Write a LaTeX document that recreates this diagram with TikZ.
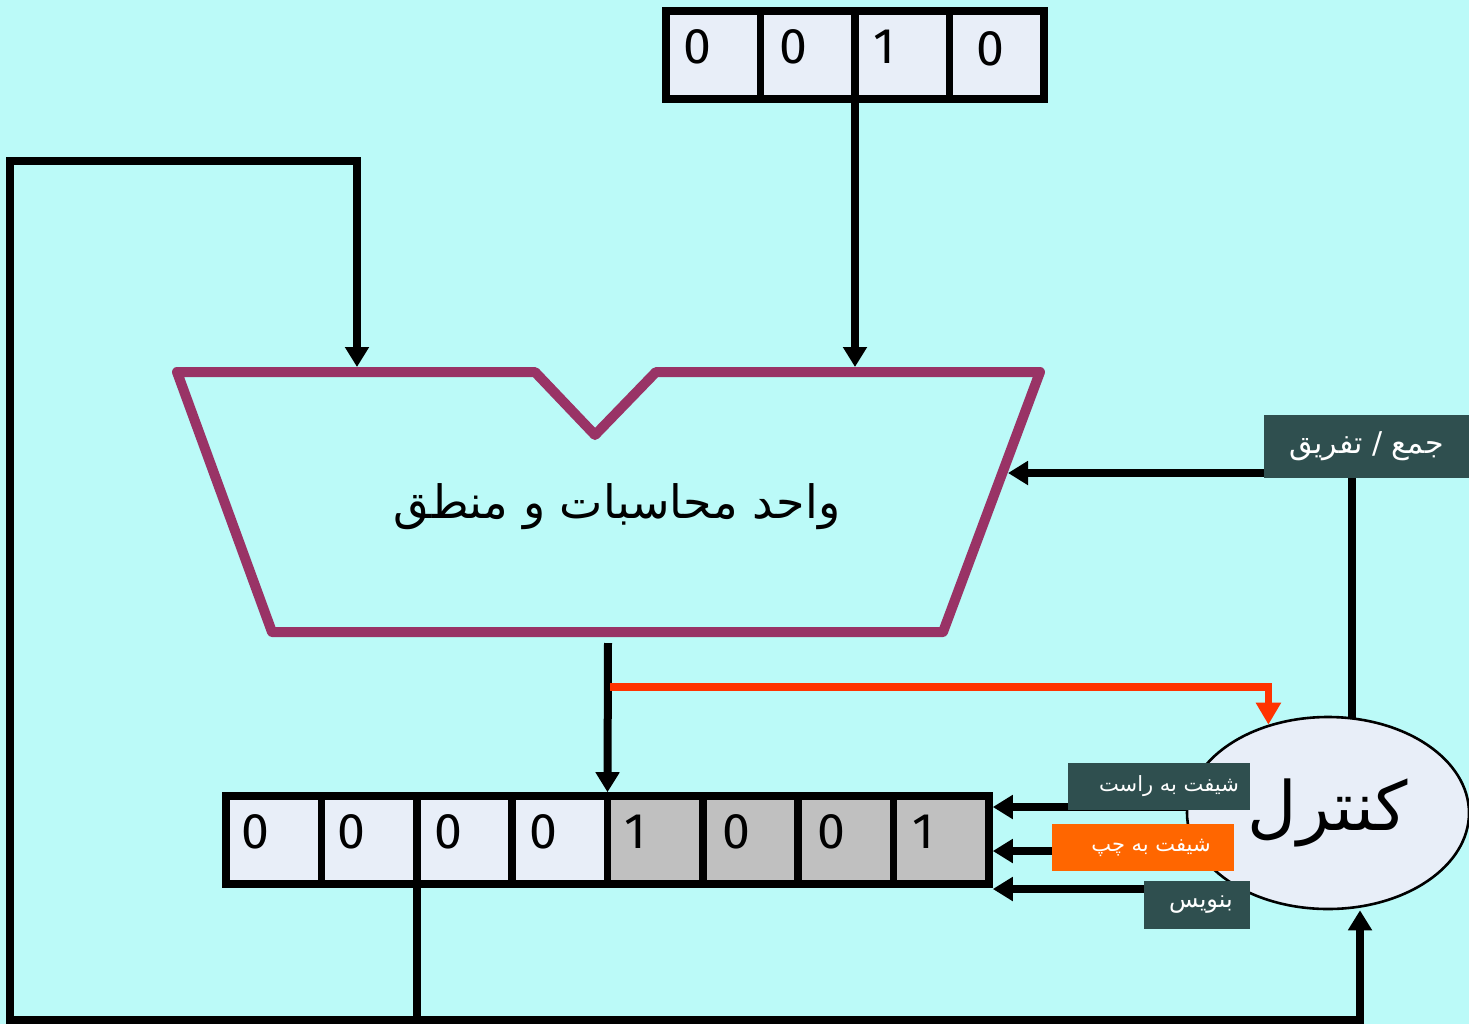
\documentclass[tikz,border=0pt]{standalone}
\usepackage{fontspec}
\setmainfont{Fira Sans}
\newfontfamily\arabicfont[Script=Arabic]{DejaVu Sans}
\TeXXeTstate=1
\usetikzlibrary{arrows.meta,shapes.geometric,calc}
\definecolor{bgc}{HTML}{BBFAF8}
\definecolor{cellc}{HTML}{E8EEF8}
\definecolor{greyc}{HTML}{C0C0C0}
\definecolor{aluc}{HTML}{993366}
\definecolor{slatec}{HTML}{2F4F4F}
\definecolor{orangec}{HTML}{FF6600}
\definecolor{redc}{HTML}{FF3300}
\pgfdeclarelayer{back}
\pgfdeclarelayer{lines}
\pgfsetlayers{back,lines,main}
\begin{document}
\begin{tikzpicture}[x=0.5pt,y=-0.5pt,
  tcell/.style={draw=black,line width=3.8pt,fill=cellc,minimum width=47.25pt,minimum height=44pt,inner sep=0pt},
  bcell/.style={tcell,minimum width=47.69pt},
  gcell/.style={bcell,fill=greyc},
  digit/.style={inner sep=0pt,font=\fontsize{25}{30}\selectfont},
  conn/.style={draw=black,line width=4pt},
  arr/.style={conn,-{Triangle[width=11.5pt,length=10pt]}},
  redarr/.style={draw=redc,line width=3.8pt,-{Triangle[width=12pt,length=11pt]}},
  tag/.style={fill=slatec,text=white,inner sep=0pt,font=\arabicfont\fontsize{10.5}{12}\selectfont},
  alu/.style={draw=aluc,line width=5pt,line join=round}
]
\begin{pgfonlayer}{back}
\fill[bgc] (0,0) rectangle (1469,1024);
\end{pgfonlayer}
\useasboundingbox (0,0) rectangle (1469,1024);

% top register
\node[tcell] (t1) at (713.25,55) {};
\node[tcell] (t2) at (807.75,55) {};
\node[tcell] (t3) at (902.25,55) {};
\node[tcell] (t4) at (996.75,55) {};
\node[digit] (td1) at ([xshift=-8pt,yshift=4pt]t1.center) {0};
\node[digit] (td2) at ([xshift=-7pt,yshift=4pt]t2.center) {0};
\node[digit] (td3) at ([xshift=-9pt,yshift=4pt]t3.center) {1};
\node[digit] (td4) at ([xshift=-3pt,yshift=3pt]t4.center) {0};

% lower register
\foreach \i/\s/\d/\dx in {1/bcell/0/-9,2/bcell/0/-9,3/bcell/0/-8,4/bcell/0/-8,5/gcell/1/-10,6/gcell/0/-7,7/gcell/0/-7,8/gcell/1/-9}{
  \node[\s] (r\i) at ({226+95.375*(\i-0.5)},840) {};
  \node[digit] (rd\i) at ([xshift=\dx pt,yshift=4pt]r\i.center) {\d};
}

% ALU
\coordinate (atl) at (177,372);
\coordinate (an1) at (535,372);
\coordinate (an2) at (595,435);
\coordinate (an3) at (656,372);
\coordinate (atr) at (1040,372);
\coordinate (abr) at (943,632);
\coordinate (abl) at (272,632);
\draw[alu] (atl) -- (an1) -- (an2) -- (an3) -- (atr) -- (abr) -- (abl) -- cycle;
\node[inner sep=0pt,font=\arabicfont\fontsize{23}{28}\selectfont] (alut) at (617,507) {\beginR واحد محاسبات و منطق\endR};
\coordinate (ain1) at (357,367);
\coordinate (ain2) at (855,367);
\coordinate (aout) at (608,643);
\coordinate (actl) at (1008,473);

% control
\node[draw=black,line width=1.3pt,fill=cellc,ellipse,minimum width=141pt,minimum height=96pt,inner sep=0pt,font=\arabicfont\fontsize{34}{40}\selectfont] (ctrl) at (1328,813) {\beginR کنترل\endR};

% tags
\node[tag,minimum width=102.5pt,minimum height=31.5pt,font=\arabicfont\fontsize{15}{18}\selectfont] (as) at (1366.5,446.5) {\beginR جمع / تفریق\endR};
\node[tag,minimum width=91pt,minimum height=23.5pt] (sr) at (1159,786.5) {\hspace*{10pt}\beginR شیفت به راست\endR};
\node[tag,fill=orangec,minimum width=91pt,minimum height=23.5pt] (sl) at (1143,847.5) {\hspace*{8pt}\beginR شیفت به چپ\endR};
\node[tag,minimum width=53pt,minimum height=24pt,font=\arabicfont\fontsize{12}{14}\selectfont] (wr) at (1197,905) {\hspace*{4pt}\beginR بنویس\endR};

\coordinate (fb) at ($(r2.south east)!0.5!(r3.south west)$);
\coordinate (bl) at (10,1019.5);
\coordinate (bc) at (1360,1019.5);
\coordinate (tl) at (10,161);
\coordinate (y1) at (0,807);
\coordinate (y2) at (0,851);
\coordinate (y3) at (0,889);
\coordinate (rs) at (610,687);

\begin{pgfonlayer}{lines}
\draw[arr] ($(t2.south east)!0.5!(t3.south west)$) -- (ain2);
\draw[conn,line cap=rect] (fb) -- (fb |- bl) -- (bc);
\draw[arr] (bc) -- (bc |- ctrl.south);
\draw[arr,line cap=rect] (fb |- bl) -- (bl) -- (tl) -| (ain1);
\draw[arr] (aout) -- ($(r4.north east)!0.5!(r5.north west)$);
\draw[redarr] (rs) -| (ctrl.124.6);
\draw[arr] (as.west |- actl) -- (actl);
\draw[conn] ([xshift=-7.5pt]as.south) -- ([xshift=-7.5pt]as.south |- ctrl.center);
\draw[arr] (ctrl.center |- y1) -- (r8.east |- y1);
\draw[arr] (ctrl.center |- y2) -- (r8.east |- y2);
\draw[arr] (ctrl.center |- y3) -- (r8.east |- y3);
\end{pgfonlayer}
\end{tikzpicture}
\end{document}
